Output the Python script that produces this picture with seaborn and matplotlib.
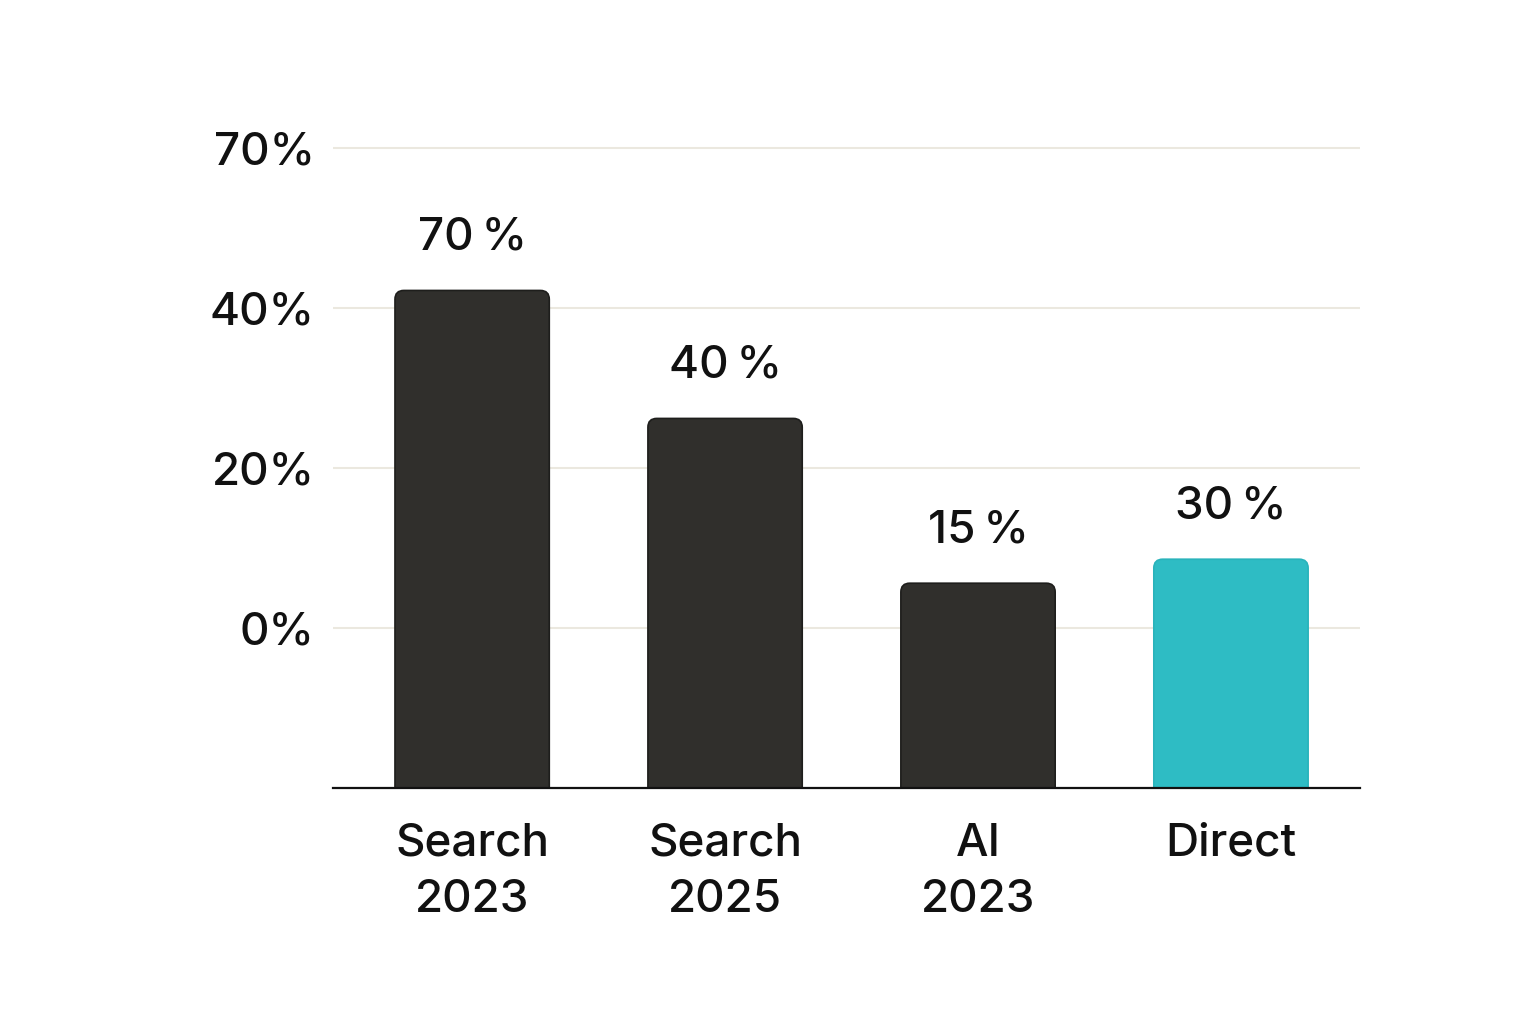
import pandas as pd
import seaborn as sns
import matplotlib
matplotlib.use("Agg")
import matplotlib.pyplot as plt
from matplotlib.patches import FancyBboxPatch

# 데이터 (막대 높이는 그림에서 읽은 축 단위 값)
categories = ["Search\n2023", "Search\n2025", "AI\n2023", "Direct"]
bar_heights = [3.11, 2.31, 1.28, 1.43]
bar_labels = ["70\u2009%", "40\u2009%", "15\u2009%", "30\u2009%"]
bar_colors = ["#302f2c", "#302f2c", "#302f2c", "#2ebcc4"]
tick_pos = [1, 2, 3, 4]
tick_labels = ["0%", "20%", "40%", "70%"]


def set_config():
    sns.set_theme(style="white")
    plt.rcParams["font.family"] = ["Inter", "DejaVu Sans"]
    plt.rcParams["font.weight"] = "medium"


def draw_chart():
    df = pd.DataFrame({"category": categories, "value": bar_heights})

    fig = plt.figure(figsize=(15.36, 10.24), dpi=100)
    ax = fig.add_axes([0.2168, 0.2305, 0.6686, 0.703])

    sns.barplot(
        data=df, x="category", y="value", hue="category",
        palette=bar_colors, width=0.61, legend=False, ax=ax, zorder=3,
    )

    # 모서리 둥근 막대로 교체
    rad = 0.035
    aspect = 253 / 160
    for patch, color in zip(list(ax.patches), bar_colors):
        x, y = patch.get_x(), patch.get_y()
        w, h = patch.get_width(), patch.get_height()
        patch.set_visible(False)
        edge = "#1e1e1c" if color != "#2ebcc4" else "#29b3bb"
        fb = FancyBboxPatch(
            (x, y - 0.2), w, h + 0.2,
            boxstyle=f"round,pad=0,rounding_size={rad}",
            mutation_aspect=aspect,
            facecolor=color, edgecolor=edge, linewidth=1.2, zorder=3,
        )
        fb.set_clip_path(ax.patch)
        ax.add_patch(fb)

    # 막대 라벨
    for i, (h, lab) in enumerate(zip(bar_heights, bar_labels)):
        ax.annotate(
            lab, (i, h), xytext=(0, 23), textcoords="offset points",
            ha="center", va="bottom", fontsize=33, color="#111111",
            weight="medium",
        )

    ax.set_xlim(-0.55, 3.51)
    ax.set_ylim(0, 4.5)
    ax.set_yticks(tick_pos)
    ax.set_yticklabels(tick_labels, fontsize=33, color="#111111", weight="medium")
    ax.set_xticks(range(len(categories)))
    ax.set_xticklabels(categories, fontsize=33, color="#111111", linespacing=1.42,
                       weight="medium")
    ax.tick_params(axis="y", length=0, pad=13)
    ax.tick_params(axis="x", length=0, pad=25)

    ax.grid(axis="y", color="#ebe8df", linewidth=1.5, zorder=0)
    ax.set_axisbelow(True)
    for side in ["top", "right", "left"]:
        ax.spines[side].set_visible(False)
    ax.spines["bottom"].set_color("#111111")
    ax.spines["bottom"].set_linewidth(1.6)
    ax.spines["bottom"].set_zorder(5)

    ax.set_xlabel("")
    ax.set_ylabel("")

    fig.savefig("out.png", dpi=100, facecolor="white")


def main():
    set_config()
    draw_chart()


if __name__ == "__main__":
    main()
